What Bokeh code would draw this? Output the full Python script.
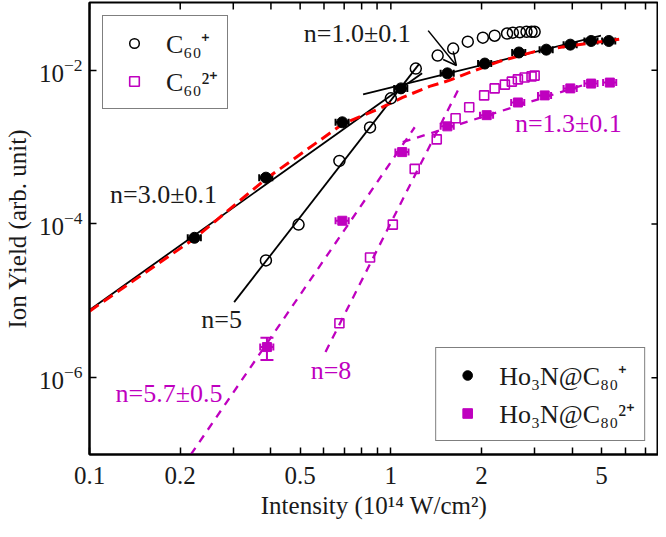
import numpy as np
from bokeh.plotting import figure
from bokeh.models import (ColumnDataSource, Range1d, FixedTicker, NumeralTickFormatter,
                          Legend, LegendItem, Label, Arrow, OpenHead, Whisker, TeeHead)
from bokeh.embed import file_html
from bokeh.resources import INLINE

# ---------------- data (intensity in 1e14 W/cm^2, ion yield in arb. unit) ----------------
c60_1_x = [0.385, 0.494, 0.675, 0.853, 1.0, 1.21, 1.43, 1.61, 1.80, 2.02, 2.21, 2.43, 2.54, 2.68, 2.82, 2.93, 3.0]
c60_1_y = [3.35e-5, 9.8e-5, 6.6e-4, 1.8e-3, 4.3e-3, 1.05e-2, 1.55e-2, 1.91e-2, 2.35e-2, 2.65e-2,
           2.81e-2, 3.0e-2, 3.08e-2, 3.12e-2, 3.16e-2, 3.16e-2, 3.16e-2]

c60_2_x = [0.675, 0.853, 1.015, 1.2, 1.42, 1.64, 1.82, 2.04, 2.21, 2.39, 2.52, 2.64, 2.78, 2.93, 3.0]
c60_2_y = [5.1e-6, 3.65e-5, 9.8e-5, 5.2e-4, 1.26e-3, 2.37e-3, 3.3e-3, 4.7e-3, 5.8e-3, 6.5e-3,
           7.1e-3, 7.6e-3, 8.05e-3, 8.3e-3, 8.5e-3]

ho_1_x = [0.223, 0.385, 0.69, 1.08, 1.54, 2.05, 2.66, 3.28, 3.94, 4.62, 5.29]
ho_1_y = [6.6e-5, 4.0e-4, 2.1e-3, 5.8e-3, 9.1e-3, 1.22e-2, 1.7e-2, 1.85e-2, 2.15e-2, 2.4e-2, 2.4e-2]

ho_2_x = [0.388, 0.69, 1.09, 1.54, 2.08, 2.64, 3.24, 3.94, 4.62, 5.33]
ho_2_y = [2.5e-6, 1.1e-4, 8.6e-4, 1.86e-3, 2.6e-3, 3.8e-3, 4.7e-3, 5.8e-3, 6.7e-3, 6.9e-3]
# vertical error bar on the lowest Ho3N@C80 2+ point
ho_2_err_x = [0.388]
ho_2_err_lo = [1.7e-6]
ho_2_err_hi = [3.3e-6]
intensity_rel_err = 0.05

# power-law fit lines (end points)
fit_n3_x, fit_n3_y = [0.1, 1.27], [7.6e-6, 9.1e-3]
fit_n5_x, fit_n5_y = [0.302, 1.24], [9.6e-6, 1.2e-2]
fit_n1_x, fit_n1_y = [0.809, 4.98], [4.83e-3, 2.81e-2]
fit_n57_x, fit_n57_y = [0.217, 1.2], [1.0e-7, 1.81e-3]
fit_n8_x, fit_n8_y = [0.607, 1.70], [2.16e-6, 6.3e-3]
fit_n13_x, fit_n13_y = [1.095, 4.87], [1.16e-3, 7.36e-3]

# saturation model curve (red dashed)
sat_x = [0.1, 0.223, 0.385, 0.69, 0.920, 1.095, 1.344, 1.563, 1.86, 2.284, 3.0, 3.97, 5.93]
sat_y = [7.33e-6, 6.45e-5, 3.85e-4, 1.98e-3, 3.19e-3, 4.43e-3, 6.15e-3, 7.36e-3, 9.62e-3,
         1.296e-2, 1.746e-2, 2.09e-2, 2.57e-2]

x_major = [0.1, 0.2, 0.5, 1, 2, 5]
x_minor = [0.3, 0.4, 0.6, 0.7, 0.8, 0.9, 3, 4, 6, 7]
y_major = [1e-6, 1e-4, 1e-2]
X_LIM = (0.1, 7.73)
Y_LIM = (1e-7, 7.6e-2)

# ---------------- style ----------------
FONT = "Liberation Serif"
FS = "25px"
MAG = "#BF00BF"
BLK = "black"
RED = "#FF0000"
TXT = "#1a1a1a"

p = figure(width=658, height=521, x_axis_type="log", y_axis_type="log",
           x_range=Range1d(*X_LIM), y_range=Range1d(*Y_LIM),
           output_backend="svg", toolbar_location=None,
           min_border_left=70, min_border_right=0, min_border_top=2, min_border_bottom=60)
p.grid.visible = False
p.outline_line_color = "black"
p.outline_line_width = 2
p.background_fill_color = "white"
p.border_fill_color = "white"

xt = FixedTicker(ticks=x_major, minor_ticks=x_minor)
yt = FixedTicker(ticks=y_major, minor_ticks=[])

def style_axis(ax):
    ax.major_tick_in = 7
    ax.major_tick_out = 0
    ax.minor_tick_in = 7
    ax.minor_tick_out = 0
    ax.axis_line_width = 2
    ax.major_tick_line_width = 1.5
    ax.minor_tick_line_width = 1.5
    ax.major_label_text_font = FONT
    ax.major_label_text_font_size = FS
    ax.major_label_text_color = TXT
    ax.axis_label_text_font = FONT
    ax.axis_label_text_font_size = FS
    ax.axis_label_text_font_style = "normal"
    ax.axis_label_text_color = TXT

p.xaxis.ticker = xt
p.xaxis.formatter = NumeralTickFormatter(format="0.[0]")
p.yaxis.ticker = yt
for ax in p.xaxis + p.yaxis:
    style_axis(ax)
p.xaxis.major_label_standoff = 12
p.yaxis.major_label_standoff = 7
p.xaxis.axis_label = "Intensity (10¹⁴ W/cm²)"
p.yaxis.axis_label = "Ion Yield (arb. unit)"
p.xaxis.axis_label_standoff = 5
p.yaxis.axis_label_standoff = 5

# mirrored inward tick marks on the top and right frame edges
tick_dec_x = 7 / 300.0   # ~7 px expressed in decades of the x axis
tick_dec_y = 7 / 77.0    # ~7 px expressed in decades of the y axis
x_all = x_major + x_minor
p.segment(x0=x_all, y0=[Y_LIM[1]] * len(x_all),
          x1=x_all, y1=[Y_LIM[1] / 10 ** tick_dec_y] * len(x_all),
          line_color=BLK, line_width=1.5)
p.segment(x0=[X_LIM[1] / 10 ** tick_dec_x] * len(y_major), y0=y_major,
          x1=[X_LIM[1]] * len(y_major), y1=y_major, line_color=BLK, line_width=1.5)

# ---------------- fit lines ----------------
p.line(fit_n3_x, fit_n3_y, line_color=BLK, line_width=1.8)
p.line(fit_n5_x, fit_n5_y, line_color=BLK, line_width=1.8)
p.line(fit_n1_x, fit_n1_y, line_color=BLK, line_width=1.8)
p.line(sat_x, sat_y, line_color=RED, line_width=3, line_dash="11 6")
for fx, fy in [(fit_n57_x, fit_n57_y), (fit_n8_x, fit_n8_y), (fit_n13_x, fit_n13_y)]:
    p.line(fx, fy, line_color=MAG, line_width=2.3, line_dash="8 7")

# ---------------- markers ----------------
r_c1 = p.scatter(c60_1_x, c60_1_y, marker="circle", size=11, fill_alpha=0,
                 line_color=BLK, line_width=1.5)
r_c2 = p.scatter(c60_2_x, c60_2_y, marker="square", size=9, fill_alpha=0,
                 line_color=MAG, line_width=1.6)

ho1 = ColumnDataSource(dict(x=ho_1_x, y=ho_1_y,
                            lo=list(np.array(ho_1_x) * (1 - intensity_rel_err)),
                            hi=list(np.array(ho_1_x) * (1 + intensity_rel_err))))
ho2 = ColumnDataSource(dict(x=ho_2_x, y=ho_2_y,
                            lo=list(np.array(ho_2_x) * (1 - intensity_rel_err)),
                            hi=list(np.array(ho_2_x) * (1 + intensity_rel_err))))
p.add_layout(Whisker(source=ho1, base="y", lower="lo", upper="hi", dimension="width",
                     line_color=BLK, line_width=2,
                     lower_head=TeeHead(size=7, line_color=BLK, line_width=2),
                     upper_head=TeeHead(size=7, line_color=BLK, line_width=2)))
p.add_layout(Whisker(source=ho2, base="y", lower="lo", upper="hi", dimension="width",
                     line_color=MAG, line_width=2,
                     lower_head=TeeHead(size=7, line_color=MAG, line_width=2),
                     upper_head=TeeHead(size=7, line_color=MAG, line_width=2)))
verr = ColumnDataSource(dict(x=ho_2_err_x, lo=ho_2_err_lo, hi=ho_2_err_hi))
p.add_layout(Whisker(source=verr, base="x", lower="lo", upper="hi", dimension="height",
                     line_color=MAG, line_width=2,
                     lower_head=TeeHead(size=13, line_color=MAG, line_width=2),
                     upper_head=TeeHead(size=13, line_color=MAG, line_width=2)))

r_h1 = p.scatter("x", "y", source=ho1, marker="circle", size=11, fill_color=BLK, line_color=BLK)
r_h2 = p.scatter("x", "y", source=ho2, marker="square", size=9, fill_color=MAG, line_color=MAG)

# ---------------- arrow & annotations ----------------
p.add_layout(Arrow(x_start=1.33, y_start=3.27e-2, x_end=1.65, y_end=1.15e-2,
                   line_color=BLK, line_width=1.5,
                   end=OpenHead(size=13, line_color=BLK, line_width=1.5)))

def lab(x, y, text, color):
    p.add_layout(Label(x=x, y=y, text=text, text_font=FONT, text_font_size="26px",
                       text_color=color, text_baseline="middle", text_align="left"))

lab(0.514, 2.99e-2, "n=1.0±0.1", TXT)
lab(0.117, 2.38e-4, "n=3.0±0.1", TXT)
lab(0.235, 5.75e-6, "n=5", TXT)
lab(0.122, 6.2e-7, "n=5.7±0.5", MAG)
lab(0.542, 1.23e-6, "n=8", MAG)
lab(2.58, 2.04e-3, "n=1.3±0.1", MAG)

# ---------------- legends ----------------
def make_legend(items, loc):
    lg = Legend(items=items, location=loc, margin=13,
                label_text_font=FONT, label_text_font_size="26px", label_text_color=TXT,
                border_line_color="black", border_line_width=1.5,
                background_fill_alpha=1.0, padding=9, spacing=2,
                glyph_width=44, glyph_height=24, label_height=36, label_standoff=10)
    p.add_layout(lg)
    return lg

make_legend([LegendItem(label="C₆₀⁺", renderers=[r_c1]),
             LegendItem(label="C₆₀²⁺", renderers=[r_c2])], "top_left")
make_legend([LegendItem(label="Ho₃N@C₈₀⁺", renderers=[r_h1]),
             LegendItem(label="Ho₃N@C₈₀²⁺", renderers=[r_h2])], "bottom_right")

open("out.html", "w").write(file_html(p, INLINE))
